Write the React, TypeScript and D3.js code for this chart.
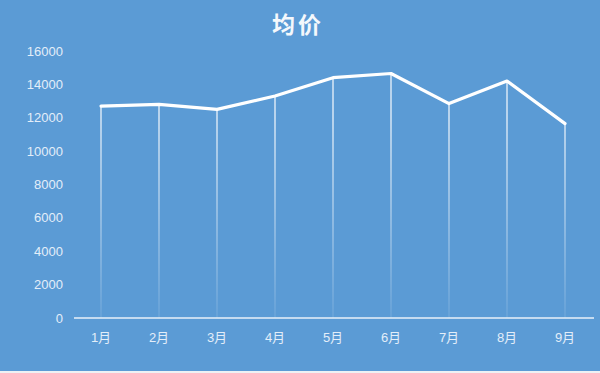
import { useEffect, useRef } from "react";
import * as d3 from "d3";

const months = ["1月", "2月", "3月", "4月", "5月", "6月", "7月", "8月", "9月"];
const avgPrice = [12700, 12800, 12500, 13300, 14400, 14650, 12850, 14200, 11650];
const yTicks = [0, 2000, 4000, 6000, 8000, 10000, 12000, 14000, 16000];
const titleText = "均价";

function App() {
  const svgRef = useRef<SVGSVGElement | null>(null);

  useEffect(() => {
    const width = 600;
    const height = 373;
    const margin = { top: 51, right: 6, bottom: 55, left: 72 };
    const bg = "#5b9bd5";
    const font = "'Liberation Sans', 'Noto Sans CJK SC', sans-serif";

    const svg = d3.select(svgRef.current).attr("width", width).attr("height", height);
    svg.selectAll("*").remove();

    // background
    svg.append("rect").attr("width", width).attr("height", 371).attr("fill", bg);
    svg.append("rect").attr("y", 371).attr("width", width).attr("height", 2).attr("fill", "#eef1f4");

    const x = d3.scaleBand<string>()
      .domain(months)
      .range([margin.left, width - margin.right]);

    const y = d3.scaleLinear()
      .domain([0, 16000])
      .range([height - margin.bottom, margin.top]);

    const defs = svg.append("defs");
    const grad = defs.append("linearGradient")
      .attr("id", "drop")
      .attr("gradientUnits", "userSpaceOnUse")
      .attr("x1", 0).attr("x2", 0)
      .attr("y1", y(12000)).attr("y2", y(0));
    grad.append("stop").attr("offset", "0%").attr("stop-color", "#fff").attr("stop-opacity", 0.95);
    grad.append("stop").attr("offset", "100%").attr("stop-color", "#fff").attr("stop-opacity", 0.12);

    const cx = (m: string) => (x(m) ?? 0) + x.bandwidth() / 2;

    // drop lines
    svg.append("g")
      .selectAll("rect")
      .data(avgPrice)
      .enter()
      .append("rect")
      .attr("x", (_, i) => cx(months[i]) - 0.6)
      .attr("width", 1.2)
      .attr("y", d => y(d))
      .attr("height", d => y(0) - y(d))
      .attr("fill", "url(#drop)");

    // x axis line
    svg.append("line")
      .attr("x1", x.range()[0] + 2)
      .attr("x2", x.range()[1])
      .attr("y1", y(0))
      .attr("y2", y(0))
      .attr("stroke", "#e8f0f8")
      .attr("stroke-width", 1.5);

    // y tick labels
    svg.append("g")
      .selectAll("text")
      .data(yTicks)
      .enter()
      .append("text")
      .attr("x", 63)
      .attr("y", d => y(d))
      .attr("dy", "0.35em")
      .attr("text-anchor", "end")
      .attr("fill", "#e3eef9")
      .style("font-family", font)
      .style("font-size", "13px")
      .text(d => d);

    // x labels
    svg.append("g")
      .selectAll("text")
      .data(months)
      .enter()
      .append("text")
      .attr("x", d => cx(d))
      .attr("y", 337)
      .attr("dy", "0.35em")
      .attr("text-anchor", "middle")
      .attr("fill", "#e3eef9")
      .style("font-family", font)
      .style("font-size", "13px")
      .text(d => d);

    // line
    const line = d3.line<number>()
      .x((_, i) => cx(months[i]))
      .y(d => y(d));

    svg.append("path")
      .datum(avgPrice)
      .attr("d", line)
      .attr("fill", "none")
      .attr("stroke", "#fff")
      .attr("stroke-width", 3.2)
      .attr("stroke-linejoin", "round")
      .attr("stroke-linecap", "round");

    // title
    svg.append("text")
      .attr("x", 298)
      .attr("y", 33)
      .attr("text-anchor", "middle")
      .attr("fill", "#f4f8fc")
      .style("font-family", "'Noto Sans CJK SC', sans-serif")
      .style("font-weight", "bold")
      .style("font-size", "23px")
      .style("letter-spacing", "3px")
      .text(titleText);
  }, []);

  return (
    <div style={{ position: "fixed", left: 0, top: 0 }}>
      <svg ref={svgRef} width={600} height={373} style={{ display: "block" }}></svg>
    </div>
  );
}

export default App;
